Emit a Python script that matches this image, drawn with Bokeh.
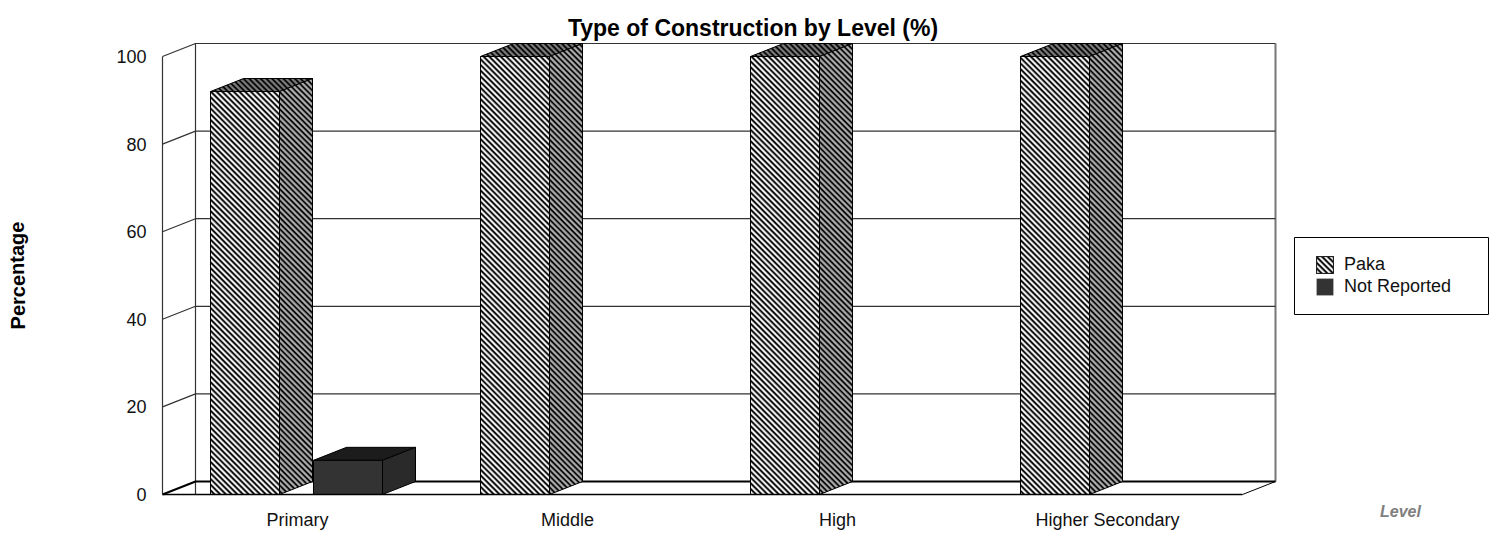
from bokeh.plotting import figure
from bokeh.models import (Range1d, FixedTicker, Label, Legend, LegendItem, LinearAxis)
from bokeh.embed import file_html
from bokeh.resources import INLINE

title = "Type of Construction by Level (%)"
categories = ["Primary", "Middle", "High", "Higher Secondary"]
paka = [92, 100, 100, 100]
not_reported = [7.8, 0, 0, 0]
y_ticks = [0, 20, 40, 60, 80, 100]

FONT = "Liberation Sans"
PX_CAT, PX_VAL = 270.0, 4.38
DX, DY = 33 / PX_CAT, 13 / PX_VAL
GAP, BAR_W, STEP = 48 / PX_CAT, 69 / PX_CAT, 103 / PX_CAT
n = len(categories)
LEFT, BOTTOM = 162, 494      # page pixels of the chart's front origin
W, H = 1490, 540

p = figure(width=W, height=H, output_backend="svg", toolbar_location=None,
           x_axis_location=None, y_axis_location=None,
           x_range=Range1d(-LEFT / PX_CAT, (W - LEFT) / PX_CAT),
           y_range=Range1d(-(H - BOTTOM) / PX_VAL, BOTTOM / PX_VAL),
           min_border=0, outline_line_color=None, background_fill_color="white")
p.grid.visible = False

WALL = "#333333"
p.line([DX, DX], [0, 100 + DY], line_color=WALL, line_width=1.2)
p.line([DX + n, DX + n], [DY, 100 + DY], line_color="#777777", line_width=2)
for v in y_ticks:
    p.line([0, DX, DX + n], [v, v + DY, v + DY], line_color="black" if v == 0 else WALL,
           line_width=2 if v == 0 else 1.2)
p.line([n, n + DX], [0, DY], line_color="black", line_width=1)


def clip(poly, lo, hi):
    """Clip a polygon to the diagonal band lo <= u <= hi, u in screen pixels."""
    def u(pt):
        return pt[0] * PX_CAT + pt[1] * PX_VAL

    def half(points, keep):
        out = []
        for i, a in enumerate(points):
            b = points[(i + 1) % len(points)]
            ka, kb = keep(u(a)), keep(u(b))
            if ka >= 0:
                out.append(a)
            if (ka >= 0) != (kb >= 0):
                t = ka / (ka - kb)
                out.append((a[0] + t * (b[0] - a[0]), a[1] + t * (b[1] - a[1])))
        return out

    res = half(poly, lambda w: w - lo)
    return half(res, lambda w: hi - w) if res else res


PERIOD = 5.7


def stripes(faces, phase, width, color, **kw):
    xs, ys = [], []
    for fx, fy in faces:
        poly = list(zip(fx, fy))
        us = [a * PX_CAT + b * PX_VAL for a, b in poly]
        k = int(min(us) // PERIOD) - 1
        while k * PERIOD < max(us):
            c = clip(poly, k * PERIOD + phase, k * PERIOD + phase + width)
            if len(c) > 2:
                xs.append([q[0] for q in c])
                ys.append([q[1] for q in c])
            k += 1
    if xs:
        p.patches(xs, ys, fill_color=color, line_color=None, **kw)


def box(x0, w, v):
    front = ([x0, x0 + w, x0 + w, x0], [0, 0, v, v])
    side = ([x0 + w, x0 + w + DX, x0 + w + DX, x0 + w], [0, DY, v + DY, v])
    top = ([x0, x0 + DX, x0 + w + DX, x0 + w], [v, v + DY, v + DY, v])
    return front, side, top


def series(values, offset, fills, striped):
    faces = []
    for i, v in enumerate(values):
        if v > 0:
            faces.append(box(i + GAP + offset, BAR_W, v))
    main = None
    for j, (fill, light) in zip((2, 1, 0), ((fills[2], fills[5]), (fills[1], fills[4]), (fills[0], fills[3]))):
        fs = [f[j] for f in faces]
        r = p.patches([f[0] for f in fs], [f[1] for f in fs], fill_color=fill, line_color=None)
        if j == 0:
            main = r
        if striped:
            stripes(fs, 0, 1.9, "black")
            stripes(fs, 2.75, 1.9, light)
        p.patches([f[0] for f in fs], [f[1] for f in fs], fill_color=None, line_color="black", line_width=1)
    return main


series(paka, 0, ("#8a8a8a", "#707070", "#505050", "#ffffff", "#b4b4b4", "#808080"), True)
r2 = series(not_reported, STEP, ("#333333", "#2a2a2a", "#1c1c1c", "", "", ""), False)

p.line([0, 0], [0, 100], line_color=WALL, line_width=1.2)
p.line([0, n], [0, 0], line_color="black", line_width=1.5)

yax = LinearAxis(fixed_location=0, ticker=FixedTicker(ticks=y_ticks), axis_line_color=None,
                 major_tick_line_color=None, minor_tick_line_color=None,
                 major_label_standoff=10, major_label_text_font=FONT,
                 major_label_text_font_size="18px", major_label_text_color="#111111")
p.add_layout(yax, "left")
xax = LinearAxis(fixed_location=0, ticker=FixedTicker(ticks=[i + 0.5 for i in range(n)]),
                 major_label_overrides={i + 0.5: c for i, c in enumerate(categories)},
                 axis_line_color=None, major_tick_line_color=None, minor_tick_line_color=None,
                 major_label_standoff=9, major_label_text_font=FONT,
                 major_label_text_font_size="18px", major_label_text_color="#111111")
p.add_layout(xax, "below")

for kw in [
    dict(text=title, px=752.5, py=27, text_font_size="23px", text_font_style="bold", text_color="black",
         text_align="center", text_baseline="middle"),
    dict(text="Percentage", px=17, py=275, angle=1.5708, text_font_size="20px", text_font_style="bold",
         text_color="black", text_align="center", text_baseline="middle"),
    dict(text="Level", px=1400, py=511, text_font_size="16px", text_font_style="bold italic",
         text_color="#808080", text_align="center", text_baseline="middle"),
]:
    px, py = kw.pop("px"), kw.pop("py")
    p.add_layout(Label(x=px, y=H - py, x_units="screen", y_units="screen", text_font=FONT, **kw))

# legend frame
bx0, bx1, by0, by1 = 1294, 1488, 237, 314
p.patches([[(bx0 - LEFT) / PX_CAT, (bx1 - LEFT) / PX_CAT, (bx1 - LEFT) / PX_CAT, (bx0 - LEFT) / PX_CAT]],
          [[(BOTTOM - by1) / PX_VAL, (BOTTOM - by1) / PX_VAL, (BOTTOM - by0) / PX_VAL, (BOTTOM - by0) / PX_VAL]],
          fill_color="white", line_color="black", line_width=1)

# diagonal fill of the Paka legend swatch; its unfilled outline is the legend's glyph
sx0, sy0 = (1316 - LEFT) / PX_CAT, (BOTTOM - 273) / PX_VAL
sw, sh = 17 / PX_CAT, 17 / PX_VAL
swatch = ([sx0, sx0 + sw, sx0 + sw, sx0], [sy0, sy0, sy0 + sh, sy0 + sh])
p.patches([swatch[0]], [swatch[1]], fill_color="#8a8a8a", line_color=None)
stripes([swatch], 0, 1.9, "black")
stripes([swatch], 2.75, 1.9, "#ffffff")
r1 = p.patches([swatch[0]], [swatch[1]], fill_color=None, line_color="#222222", line_width=1)

legend = Legend(items=[LegendItem(label="Paka", renderers=[r1]),
                       LegendItem(label="Not Reported", renderers=[r2])],
                location=(1297, H - by1), orientation="vertical", margin=0, padding=17, spacing=1,
                glyph_width=21, glyph_height=21, label_standoff=9, label_height=17,
                label_text_font=FONT, label_text_font_size="18px", label_text_color="#111111",
                border_line_color="black", border_line_alpha=0, background_fill_alpha=0)
p.add_layout(legend, "center")

open("out.html", "w").write(file_html(p, INLINE))
